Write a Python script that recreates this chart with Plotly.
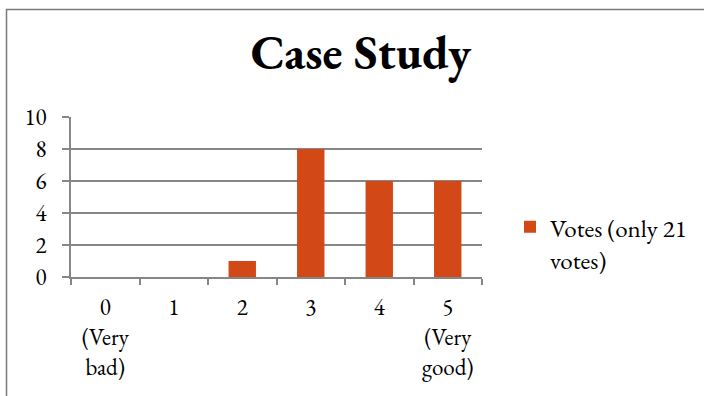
import plotly.graph_objects as go

# Rating categories (0 = very bad ... 5 = very good) and vote counts
categories = ["0<br>(Very<br>bad)", "1", "2", "3", "4", "5<br>(Very<br>good)"]
votes = [0, 0, 1, 8, 6, 6]
series_name = "Votes (only 21<br>votes)"
y_ticks = [0, 2, 4, 6, 8, 10]

FONT = "Garamond, 'EB Garamond', 'Liberation Serif', serif"
BAR = "#D34817"
GRID = "#868686"

fig = go.Figure()
fig.add_trace(go.Bar(
    x=categories,
    y=votes,
    name=series_name,
    marker=dict(color=BAR, line=dict(width=0)),
    showlegend=True,
))

# Plot area spans x 71..482, y 117..277 px
L, R, T, B = 71, 704 - 482, 117, 396 - 277
pw, ph = 704 - L - R, 396 - T - B

def px_to_paper_x(x):
    return (x - L) / pw

def px_to_paper_y(y):
    return (396 - B - y) / ph

fig.update_layout(
    width=704, height=396,
    margin=dict(l=L, r=R, t=T, b=B, pad=0),
    paper_bgcolor="white", plot_bgcolor="white",
    font=dict(family=FONT, size=23, color="#000000"),
    bargap=0.6,
    title=dict(
        text="Case Study",
        font=dict(family=FONT, size=48, color="#000000", weight="bold"),
        x=361 / 704, xanchor="center", xref="container",
        y=1 - 52 / 396, yanchor="middle", yref="container",
    ),
    legend=dict(
        x=px_to_paper_x(510), xanchor="left",
        y=px_to_paper_y(243), yanchor="middle",
        font=dict(family=FONT, size=25, color="#000000"),
        bgcolor="rgba(0,0,0,0)",
        itemwidth=30,
        valign="top",
    ),
    xaxis=dict(
        type="category",
        showline=True, linecolor=GRID, linewidth=1.5,
        ticks="outside", tickson="boundaries", ticklen=6,
        tickcolor=GRID, tickwidth=1.5,
        showgrid=False,
        ticklabelstandoff=9,
        tickfont=dict(family=FONT, size=23, color="#000000"),
        fixedrange=True,
    ),
    yaxis=dict(
        range=[0, 10], tickvals=y_ticks,
        showline=True, linecolor=GRID, linewidth=1.5,
        ticks="outside", ticklen=7, tickcolor=GRID, tickwidth=1.5,
        showgrid=True, gridcolor=GRID, gridwidth=1.5,
        zeroline=False,
        ticklabelstandoff=11,
        tickfont=dict(family=FONT, size=23, color="#000000"),
        fixedrange=True,
    ),
)

# Outer chart frame (only its top and left edges fall inside the page)
fig.add_shape(
    type="rect", xref="paper", yref="paper",
    x0=px_to_paper_x(6.5), x1=px_to_paper_x(760),
    y0=px_to_paper_y(460), y1=px_to_paper_y(9.5),
    line=dict(color="#7a7a7a", width=1.5),
    fillcolor="rgba(0,0,0,0)", layer="below",
)

fig.write_html("out.html")
